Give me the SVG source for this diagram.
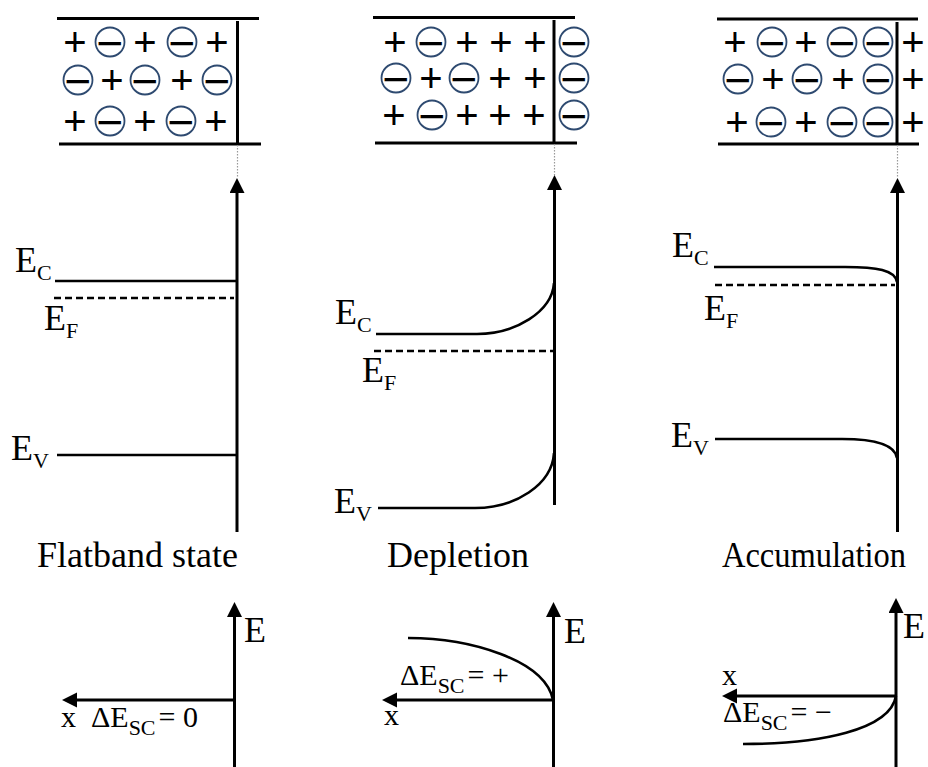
<svg xmlns="http://www.w3.org/2000/svg" xmlns:xlink="http://www.w3.org/1999/xlink" width="928" height="767" viewBox="0 0 928 767">
<style>
  .ln{stroke:#000;stroke-width:3;fill:none}
  .bd{stroke:#000;stroke-width:2.6;fill:none}
  .dash{stroke:#000;stroke-width:2.4;fill:none;stroke-dasharray:7 4}
  .dot{stroke:#999;stroke-width:1.2;stroke-dasharray:1.5 1.5;fill:none}
  .p{font-family:"Liberation Sans",Arial,sans-serif;font-size:40px;text-anchor:middle;fill:#000}
  .m{font-family:"Liberation Sans",Arial,sans-serif;font-size:46px;text-anchor:middle;fill:#000}
  .cir{fill:#fff;stroke:#2e4a70;stroke-width:1.8}
  .lab{font-family:"Liberation Serif","Times New Roman",serif;font-size:36px;fill:#000}
  .sm{font-family:"Liberation Serif","Times New Roman",serif;font-size:30px;fill:#000}
  .sub{font-size:22px}
</style>
<defs>
  <marker id="ah" markerUnits="userSpaceOnUse" markerWidth="16" markerHeight="16" refX="0" refY="7.5" orient="auto">
    <path d="M0,0 L15,7.5 L0,15 Z" fill="#000"/>
  </marker>
  <g id="neg"><circle class="cir" r="14.5"/><text class="m" y="16.5">−</text></g>
</defs>

<!-- Panel 1: Flatband -->
<g id="box1">
  <line class="ln" x1="57" y1="18.5" x2="259" y2="18.5"/>
  <line class="ln" x1="59" y1="144" x2="261" y2="144"/>
  <line class="ln" x1="237.5" y1="21" x2="237.5" y2="144"/>
  <text class="p" x="75" y="56.4">+</text><use href="#neg" x="110" y="42"/><text class="p" x="145" y="56.4">+</text><use href="#neg" x="182" y="42"/><text class="p" x="217" y="56.4">+</text>
  <use href="#neg" x="78" y="80"/><text class="p" x="112" y="94.4">+</text><use href="#neg" x="145" y="80"/><text class="p" x="182" y="94.4">+</text><use href="#neg" x="217" y="80"/>
  <text class="p" x="75" y="135.4">+</text><use href="#neg" x="110" y="121"/><text class="p" x="145" y="135.4">+</text><use href="#neg" x="181" y="121"/><text class="p" x="216" y="135.4">+</text>
</g>
<!-- Panel 2: Depletion -->
<g id="box2">
  <line class="ln" x1="373" y1="17.5" x2="575" y2="17.5"/>
  <line class="ln" x1="375" y1="143" x2="577" y2="143"/>
  <line class="ln" x1="554" y1="20" x2="554" y2="143"/>
  <text class="p" x="395" y="56.4">+</text><use href="#neg" x="431" y="42"/><text class="p" x="467" y="56.4">+</text><text class="p" x="501" y="56.4">+</text><text class="p" x="535" y="56.4">+</text><use href="#neg" x="574" y="42"/>
  <use href="#neg" x="396" y="78"/><text class="p" x="431" y="92.4">+</text><use href="#neg" x="464" y="78"/><text class="p" x="500" y="92.4">+</text><text class="p" x="535" y="92.4">+</text><use href="#neg" x="574" y="78"/>
  <text class="p" x="394" y="129.4">+</text><use href="#neg" x="432" y="115"/><text class="p" x="467" y="129.4">+</text><text class="p" x="500" y="129.4">+</text><text class="p" x="534" y="129.4">+</text><use href="#neg" x="574" y="115"/>
</g>
<!-- Panel 3: Accumulation -->
<g id="box3">
  <line class="ln" x1="717" y1="19" x2="918" y2="19"/>
  <line class="ln" x1="718" y1="144" x2="919" y2="144"/>
  <line class="ln" x1="897" y1="22" x2="897" y2="144"/>
  <text class="p" x="735" y="56.4">+</text><use href="#neg" x="772" y="42"/><text class="p" x="806" y="56.4">+</text><use href="#neg" x="842" y="42"/><use href="#neg" x="878" y="42"/><text class="p" x="913" y="56.4">+</text>
  <use href="#neg" x="738" y="79"/><text class="p" x="773" y="93.4">+</text><use href="#neg" x="807" y="79"/><text class="p" x="843" y="93.4">+</text><use href="#neg" x="878" y="79"/><text class="p" x="913" y="93.4">+</text>
  <text class="p" x="737" y="136.4">+</text><use href="#neg" x="771" y="122"/><text class="p" x="806" y="136.4">+</text><use href="#neg" x="842" y="122"/><use href="#neg" x="878" y="122"/><text class="p" x="913" y="136.4">+</text>
</g>

<!-- Band diagrams -->
<g id="band1">
  <line class="ln" x1="237" y1="532" x2="237" y2="193" marker-end="url(#ah)"/>
  <line class="bd" x1="55" y1="281" x2="237" y2="281"/>
  <line class="dash" x1="54" y1="298" x2="234" y2="298"/>
  <line class="bd" x1="57" y1="455" x2="237" y2="455"/>
  <text class="lab" x="15" y="272">E<tspan class="sub" dy="8">C</tspan></text>
  <text class="lab" x="44" y="330">E<tspan class="sub" dy="8">F</tspan></text>
  <text class="lab" x="11" y="460">E<tspan class="sub" dy="8">V</tspan></text>
</g>
<g id="band2">
  <line class="ln" x1="554.5" y1="505" x2="554.5" y2="190" marker-end="url(#ah)"/>
  <path class="bd" d="M376,334 L477,334 C515,334 552,312 554,283"/>
  <line class="dash" x1="374" y1="351" x2="553" y2="351"/>
  <path class="bd" d="M378,508 L475,508 C515,508 552,485 554,453"/>
  <text class="lab" x="335" y="324">E<tspan class="sub" dy="8">C</tspan></text>
  <text class="lab" x="362" y="382">E<tspan class="sub" dy="8">F</tspan></text>
  <text class="lab" x="334" y="513">E<tspan class="sub" dy="8">V</tspan></text>
</g>
<g id="band3">
  <line class="ln" x1="897.5" y1="532" x2="897.5" y2="193" marker-end="url(#ah)"/>
  <path class="bd" d="M714,267 L845,267 C877,267 895,270 897,282"/>
  <line class="dash" x1="715" y1="285" x2="895" y2="285"/>
  <path class="bd" d="M715,439 L842,439 C877,439 895,445 897,458"/>
  <text class="lab" x="672" y="257">E<tspan class="sub" dy="8">C</tspan></text>
  <text class="lab" x="704" y="320">E<tspan class="sub" dy="8">F</tspan></text>
  <text class="lab" x="671" y="447">E<tspan class="sub" dy="8">V</tspan></text>
</g>

<g id="connectors">
  <line class="dot" x1="237.5" y1="145" x2="237.5" y2="178"/>
  <line class="dot" x1="554.5" y1="144" x2="554.5" y2="175"/>
  <line class="dot" x1="897.5" y1="145" x2="897.5" y2="178"/>
</g>

<!-- Titles -->
<g id="titles">
  <text class="lab" x="37" y="567">Flatband state</text>
  <text class="lab" x="387" y="567">Depletion</text>
  <text class="lab" x="722" y="567" textLength="184" lengthAdjust="spacingAndGlyphs">Accumulation</text>
</g>

<!-- Bottom plots -->
<g id="plot1">
  <line class="ln" x1="234.5" y1="767" x2="234.5" y2="617" marker-end="url(#ah)"/>
  <line class="ln" x1="234.5" y1="700" x2="77" y2="700" marker-end="url(#ah)"/>
  <text class="lab" x="244" y="642">E</text>
  <text class="sm" x="61" y="727">x</text>
  <text class="sm" x="91" y="727">ΔE<tspan class="sub" dy="8">SC</tspan><tspan dy="-8" dx="3">= 0</tspan></text>
</g>
<g id="plot2">
  <line class="ln" x1="553.5" y1="767" x2="553.5" y2="617" marker-end="url(#ah)"/>
  <line class="ln" x1="553.5" y1="700" x2="397" y2="700" marker-end="url(#ah)"/>
  <path class="bd" d="M408,638 C470,638 545,660 553,700"/>
  <text class="lab" x="564" y="643">E</text>
  <text class="sm" x="384" y="725">x</text>
  <text class="sm" x="400" y="685">ΔE<tspan class="sub" dy="8">SC</tspan><tspan dy="-8" dx="3">= +</tspan></text>
</g>
<g id="plot3">
  <line class="ln" x1="896" y1="767" x2="896" y2="613" marker-end="url(#ah)"/>
  <line class="ln" x1="896" y1="696" x2="737" y2="696" marker-end="url(#ah)"/>
  <path class="bd" d="M743,744 C820,744 890,730 896,696"/>
  <text class="lab" x="903" y="638">E</text>
  <text class="sm" x="722" y="685">x</text>
  <text class="sm" x="723" y="722">ΔE<tspan class="sub" dy="8">SC</tspan><tspan dy="-8" dx="3">= −</tspan></text>
</g>
</svg>
